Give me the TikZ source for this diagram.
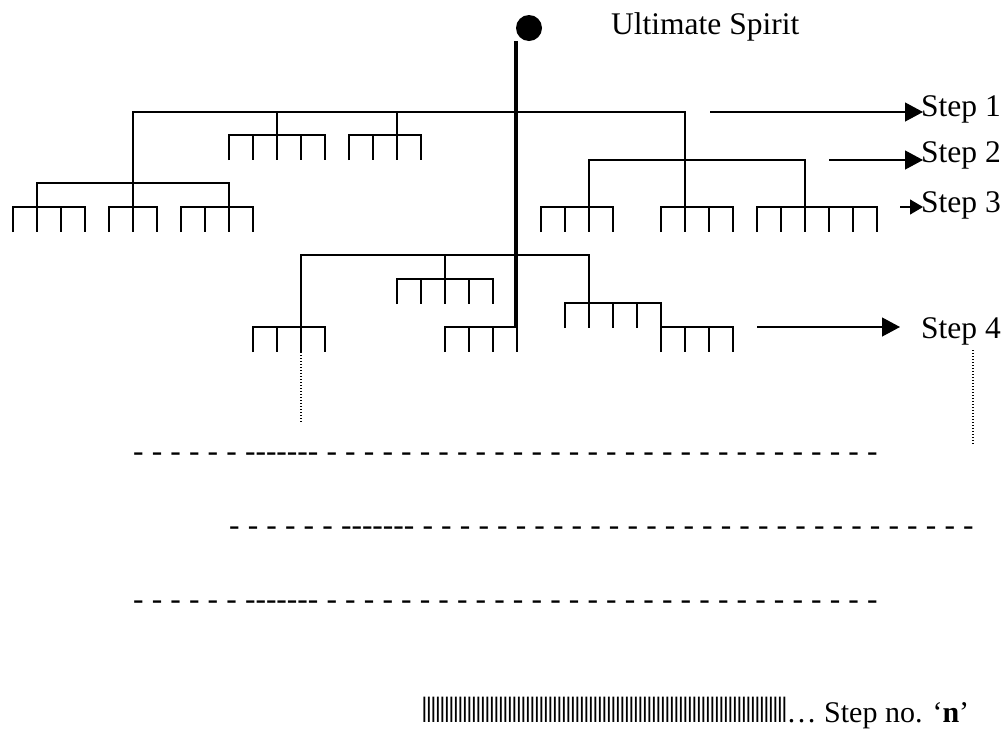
\documentclass[tikz,border=0pt]{standalone}
\usepackage{fontspec}
\usepackage{graphicx}
\setmainfont{Liberation Serif}
\newfontfamily\barfont{Liberation Sans}
\usetikzlibrary{arrows.meta}
\newcommand\mycomb[3]{% x0, number of ticks, y
  \pgfmathsetmacro\cx{#1+24*(#2-1)}
  \draw[tree] (#1,#3+25) -- (#1,#3) -- (\cx,#3) -- (\cx,#3+25);
  \pgfmathtruncatemacro\cm{#2-1}
  \foreach \k in {2,...,\cm} \draw[tree] ({#1+24*(\k-1)},#3) -- ++(0,25);
}
\newcommand\dashsp{\spaceskip=8.15pt\relax}
\begin{document}
\begin{tikzpicture}[x=1pt,y=-1pt,
  tree/.style={line width=1.6pt, line join=miter},
  trunk/.style={line width=4pt},
  txt/.style={inner sep=0pt, font=\fontsize{31.5}{36}\selectfont, anchor=base west},
  steparrow/.style={line width=1.2pt, -{Triangle[length=18pt,width=19pt]}},
  smallarrow/.style={line width=1.2pt, -{Triangle[length=13pt,width=15pt]}},
  dots/.style={line width=1.2pt, dash pattern=on 1.2pt off 1.8pt}]
\useasboundingbox (0,0) rectangle (1005,729);

% apex
\node[circle, fill=black, inner sep=0pt, minimum size=26pt] (spirit) at (529,28) {};
\node[txt] (us) at (611,34) {Ultimate Spirit};
\coordinate (trunktop) at (516,41);
\coordinate (trunkbot) at (516,327);
\draw[trunk] (trunktop) -- (trunkbot);

% step 1 level
\draw[tree] (133,207) -- (133,112) -- (685,112) -- (685,207);
\draw[tree] (277,112) -- (277,135);
\draw[tree] (397,112) -- (397,135);
\mycomb{229}{5}{135}
\mycomb{349}{4}{135}

% left subtree
\draw[tree] (37,207) -- (37,183) -- (229,183) -- (229,207);
\mycomb{13}{4}{207}
\mycomb{109}{3}{207}
\mycomb{181}{4}{207}

% right subtree
\draw[tree] (589,207) -- (589,160) -- (805,160) -- (805,207);
\mycomb{541}{4}{207}
\mycomb{661}{4}{207}
\mycomb{757}{6}{207}

% middle subtree
\draw[tree] (301,327) -- (301,255) -- (589,255) -- (589,303);
\draw[tree] (445,255) -- (445,279);
\mycomb{397}{5}{279}
\mycomb{565}{5}{303}
\mycomb{661}{4}{327}
\mycomb{253}{4}{327}
\mycomb{445}{4}{327}

% step labels and arrows
\node[txt] (s1) at (921,116) {Step 1};
\node[txt] (s2) at (921,162) {Step 2};
\node[txt] (s3) at (921,212) {Step 3};
\node[txt] (s4) at (921,338) {Step 4};
\coordinate (a1) at (710,112);
\coordinate (a2) at (829,160);
\coordinate (a3) at (900,207);
\coordinate (a4) at (757,327);
\draw[steparrow] (a1) -- ([xshift=2pt]a1 -| s1.west);
\draw[steparrow] (a2) -- ([xshift=2pt]a2 -| s2.west);
\draw[smallarrow] (a3) -- ([xshift=2pt]a3 -| s3.west);
\draw[steparrow] (a4) -- ([xshift=-21pt]a4 -| s4.west);

% dotted continuations
\coordinate (dl1) at (301,352);
\coordinate (dl2) at (301,422);
\coordinate (dr1) at (973,350);
\coordinate (dr2) at (973,444);
\draw[dots] (dl1) -- (dl2);
\draw[dots] (dr1) -- (dr2);

% dashed rows
\node[txt] (row1) at (133,461) {\dashsp - - - - - - -{}-{}-{}-{}-{}-{}- - - - - - - - - - - - - - - - - - - - - - - - - - - - - - -};
\node[txt] (row2) at (229,535) {\dashsp - - - - - - -{}-{}-{}-{}-{}-{}- - - - - - - - - - - - - - - - - - - - - - - - - - - - - - -};
\node[txt] (row3) at (133,609) {\dashsp - - - - - - -{}-{}-{}-{}-{}-{}- - - - - - - - - - - - - - - - - - - - - - - - - - - - - - -};

% last row
\node[txt] (last) at (422,722) {{\barfont\fontsize{35}{40}\selectfont\foreach \i in {1,...,81}{\makebox[4.5pt]{\scalebox{0.6}[1]{l}}}}{\fontsize{30}{34}\selectfont… Step no. ‘\textbf{n}’}};
\end{tikzpicture}
\end{document}
